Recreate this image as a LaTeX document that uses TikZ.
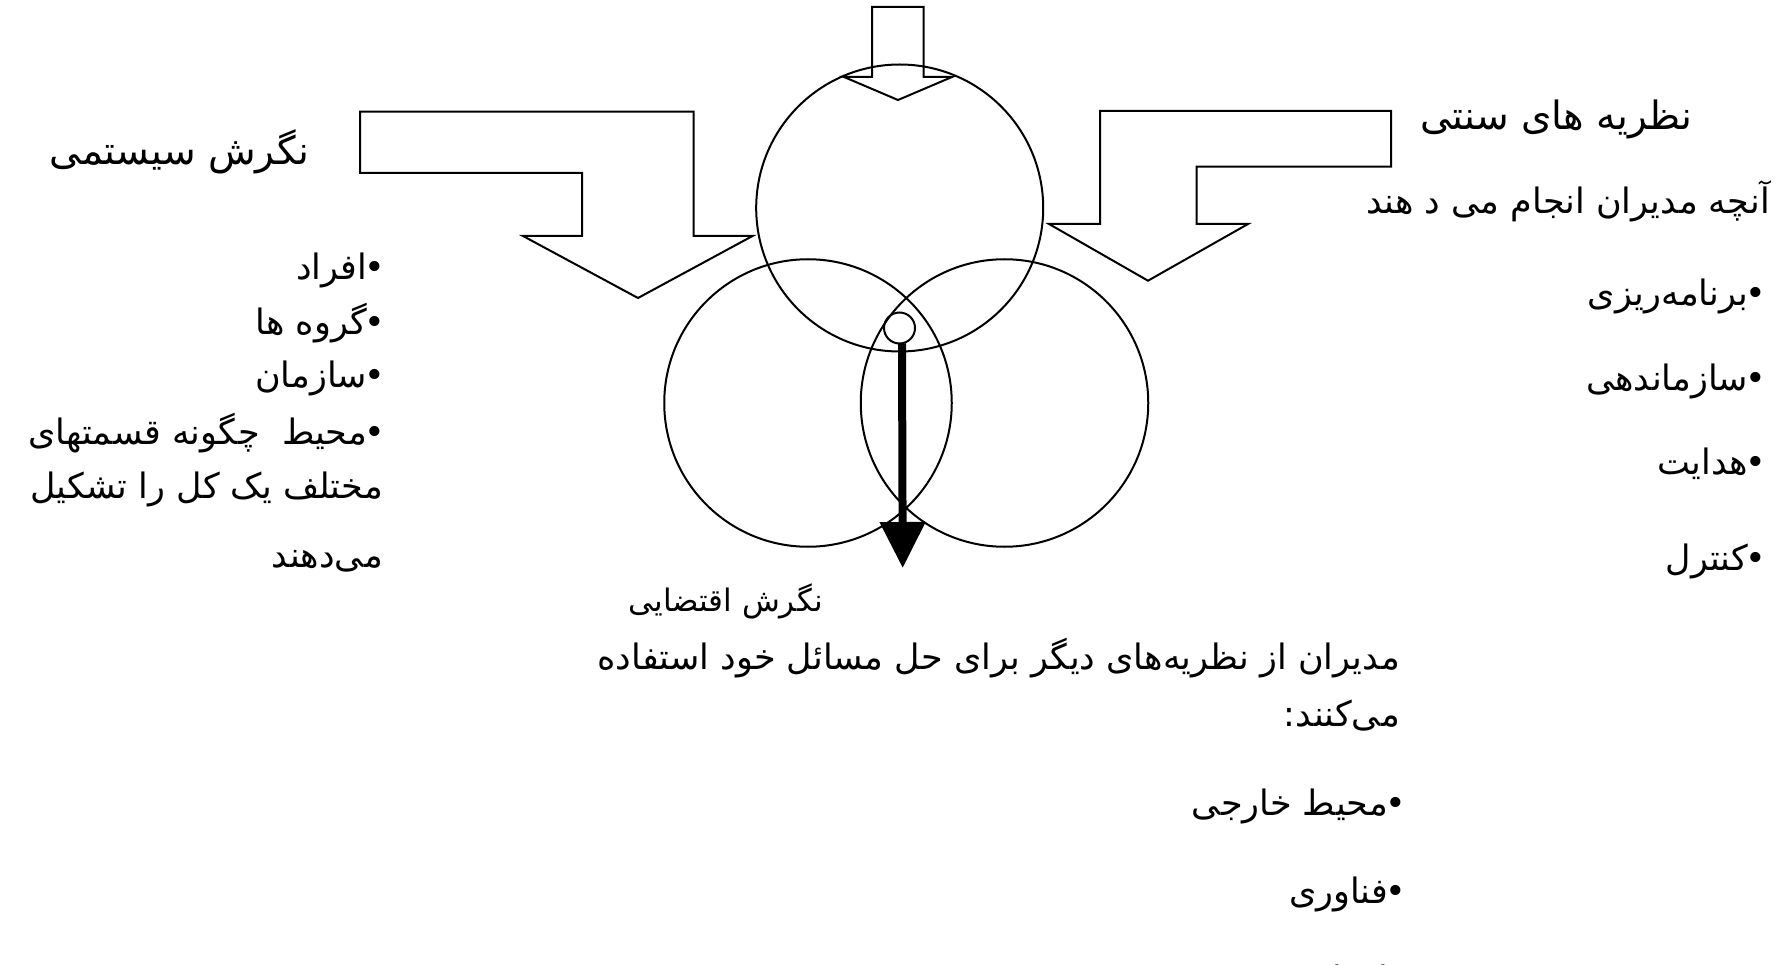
\documentclass[tikz,border=0pt]{standalone}
\usepackage{fontspec}
\usetikzlibrary{arrows.meta,shapes.geometric}
\TeXXeTstate=1
\newfontfamily\fa[Script=Arabic]{DejaVu Sans}
\tikzset{
  shapeline/.style={draw=black, line width=2pt, line join=miter},
  ring/.style={shapeline, circle, inner sep=0pt, outer sep=0pt},
  fatxt/.style={font={\fa\fontsize{35}{40}\selectfont}, inner sep=0pt, anchor=base east},
  titletxt/.style={font={\fa\fontsize{39}{44}\selectfont}, inner sep=0pt, anchor=base east},
  smalltxt/.style={font={\fa\fontsize{31}{36}\selectfont}, inner sep=0pt, anchor=base east},
  fatarrow/.style={line width=8pt, -{Triangle[width=44pt,length=46pt]}}
}
\newcommand{\rtl}[1]{\beginR #1\endR}
\newcommand{\bul}{•\kern-3pt}
\begin{document}
\begin{tikzpicture}[x=1pt,y=-1pt]
\path[use as bounding box] (0,0) rectangle (1792,965);
\clip (0,0) rectangle (1792,965);

% block arrows
\draw[shapeline] (872,7) -- (923.5,7) -- (923.5,77) -- (952,77) -- (898,100) -- (844,77) -- (872,77) -- cycle;
\draw[shapeline] (360,111.7) -- (693.5,111.7) -- (693.5,236) -- (752.5,236) -- (638,298) -- (523,236) -- (582,236) -- (582,173) -- (360,173) -- cycle;
\draw[shapeline] (1100,111) -- (1391,111) -- (1391,166.7) -- (1196.7,166.7) -- (1196.7,224) -- (1248,224) -- (1148,280.7) -- (1049,224) -- (1100,224) -- cycle;

% circles
\node[ring, minimum size=287pt] (top) at (899.7,208) {};
\node[ring, minimum size=287.5pt] (bl) at (808,403) {};
\node[ring, minimum size=287.5pt] (br) at (1004.5,403) {};
\node[ring, minimum size=31pt] (dot) at (899.5,328) {};
\coordinate (tip) at (902.7,568);
\draw[fatarrow] ([xshift=2.5pt]dot.south) -- (tip);

% left texts
\node[titletxt] (t1) at (310,165) {\rtl{نگرش سیستمی}};
\node[fatxt] (l1) at (385,280) {\rtl{\bul افراد}};
\node[fatxt] (l2) at (385,335) {\rtl{\bul گروه ها}};
\node[fatxt] (l3) at (385,388) {\rtl{\bul سازمان}};
\node[fatxt] (l4) at (385,445) {\rtl{\bul محیط\ \ چگونه قسمتهای}};
\node[fatxt] (l5) at (383,498) {\rtl{مختلف یک کل را تشکیل}};
\node[fatxt] (l6) at (383,567) {\rtl{می‌دهند}};

% right texts
\node[titletxt] (t2) at (1693,130) {\rtl{نظریه های سنتی}};
\node[fatxt] (r0) at (1770,214) {\rtl{آنچه مدیران انجام می د هند}};
\node[fatxt] (r1) at (1766,306) {\rtl{\bul برنامه‌ریزی}};
\node[fatxt] (r2) at (1766,391) {\rtl{\bul سازماندهی}};
\node[fatxt] (r3) at (1766,475) {\rtl{\bul هدایت}};
\node[fatxt] (r4) at (1766,570) {\rtl{\bul کنترل}};

% bottom texts
\node[smalltxt] (t3) at (823,611) {\rtl{نگرش اقتضایی}};
\node[fatxt] (b0) at (1400,669) {\rtl{مدیران از نظریه‌های دیگر برای حل مسائل خود استفاده}};
\node[fatxt] (b1) at (1400,726) {\rtl{می‌کنند:}};
\node[fatxt] (b2) at (1406,815) {\rtl{\bul محیط خارجی}};
\node[fatxt] (b3) at (1406,903) {\rtl{\bul فناوری}};
\node[fatxt] (b4) at (1406,991) {\rtl{\bul افراد}};
\end{tikzpicture}
\end{document}
